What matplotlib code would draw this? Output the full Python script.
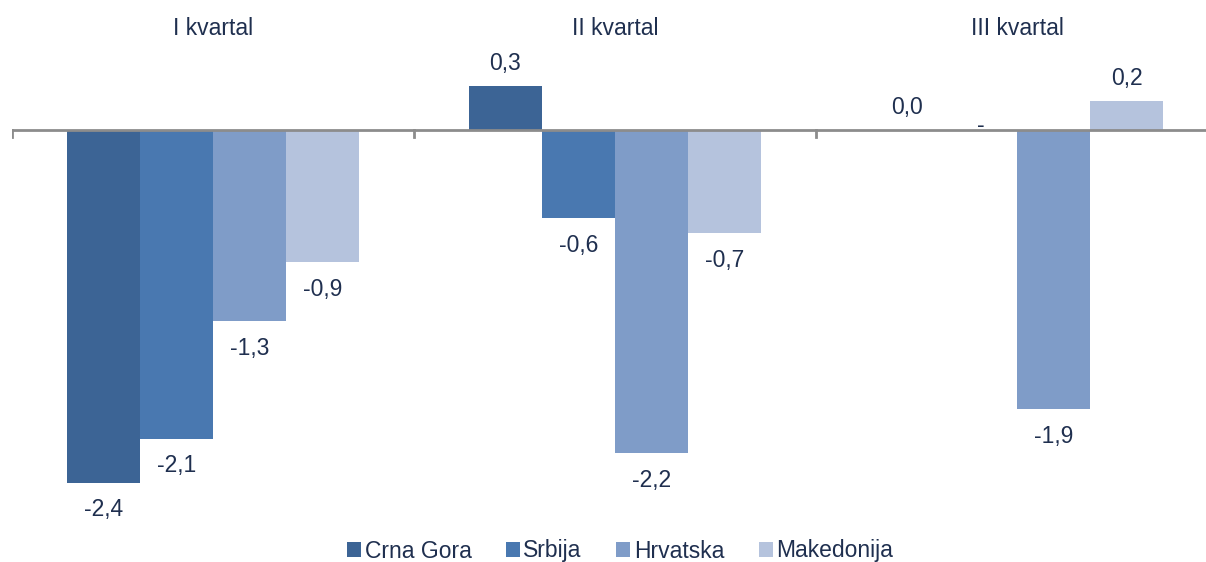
import numpy as np
import matplotlib.pyplot as plt

plt.rcParams['font.family'] = ['Liberation Sans', 'DejaVu Sans']

quarters = ['I kvartal', 'II kvartal', 'III kvartal']
countries = ['Crna Gora', 'Srbija', 'Hrvatska', 'Makedonija']
crna_gora = [-2.4, 0.3, 0.0]
srbija = [-2.1, -0.6, np.nan]
hrvatska = [-1.3, -2.2, -1.9]
makedonija = [-0.9, -0.7, 0.2]
series = [crna_gora, srbija, hrvatska, makedonija]
colors = ['#3C6495', '#4978B0', '#7F9CC8', '#B5C3DD']
text_color = '#1F2F4F'
fs = 16.5

fig = plt.figure(figsize=(12.06, 5.62), dpi=100)
ax = fig.add_axes([12 / 1206, 32 / 562, 1194 / 1206, 530 / 562])

bw = 73 / 402
x = np.arange(len(quarters))
for i, (vals, col, name) in enumerate(zip(series, colors, countries)):
    pos = x + (i - 1.5) * bw
    ax.bar(pos, np.nan_to_num(vals), width=bw, color=col, label=name, zorder=2)
    for p, v in zip(pos, vals):
        if np.isnan(v):
            # no data -> dash sitting on the axis
            ax.text(p, 0.03, '-', ha='center', va='center', fontsize=fs, color=text_color, zorder=4)
        elif v >= 0:
            ax.text(p, v + 0.15, f'{v:.1f}'.replace('.', ','), ha='center', va='center',
                    fontsize=fs, color=text_color)
        else:
            ax.text(p, v - 0.185, f'{v:.1f}'.replace('.', ','), ha='center', va='center',
                    fontsize=fs, color=text_color)

for xi, q in zip(x, quarters):
    ax.text(xi, 0.69, q, ha='center', va='center', fontsize=fs, color=text_color)

ax.axhline(0, color='#8C8C8C', lw=2, zorder=3)
for b in np.arange(-0.5, 3.0, 1.0):
    ax.plot([b, b], [0, -0.05], color='#8C8C8C', lw=2, zorder=3)

ax.set_xlim(-0.5, -0.5 + 1194 / 402)
ax.set_ylim(-(400 / 147), 130 / 147)
ax.axis('off')

fig.legend(loc='center', bbox_to_anchor=(620 / 1206, 1 - 551 / 562), ncol=4, frameon=False,
           fontsize=fs, handlelength=0.62, handleheight=0.62, handletextpad=0.15, columnspacing=1.5,
           labelcolor=text_color)

fig.savefig('out.png', dpi=100)
